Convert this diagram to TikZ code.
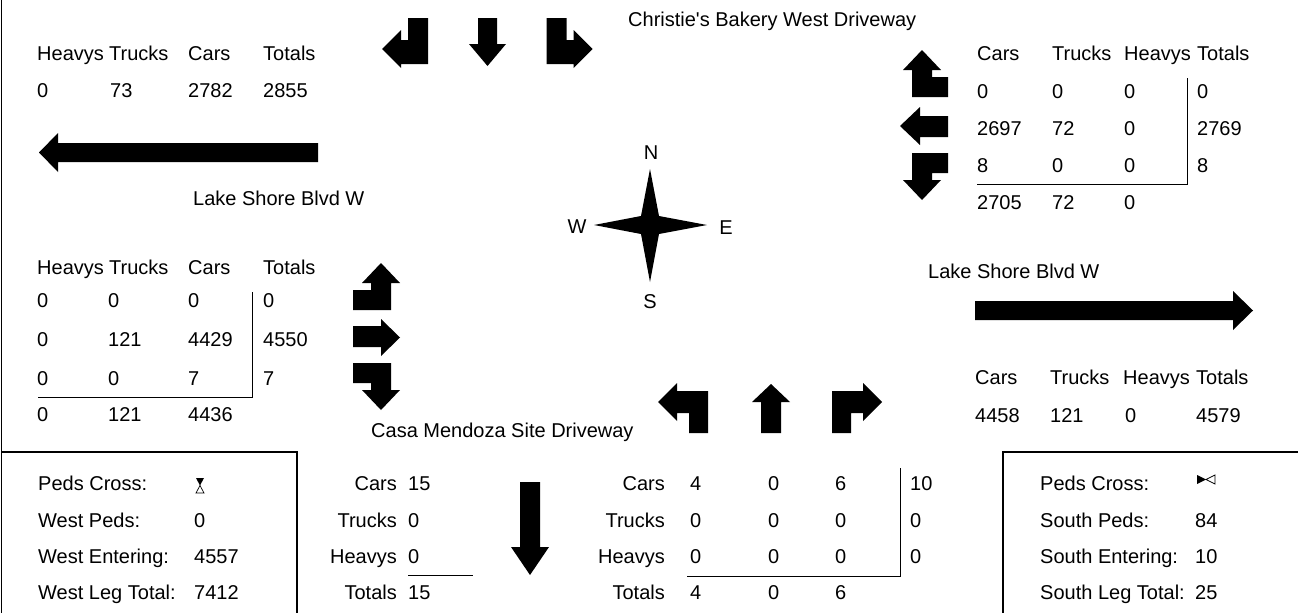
\documentclass[tikz,border=0pt]{standalone}
\usepackage{fontspec}
\setmainfont{Liberation Sans}
\usepackage{tikz}

\begin{document}
\begin{tikzpicture}[x=1pt, y=-1pt, font=\fontsize{20}{24}\selectfont,
  lbl/.style={anchor=base west, inner sep=0pt},
  rlbl/.style={anchor=base east, inner sep=0pt},
  arw/.style={fill=black},
  rule/.style={line width=0.8pt},
  frame/.style={line width=1.2pt}]
  \useasboundingbox (0,0) rectangle (1298,613);
  \draw[frame] (1.5,0) -- (1.5,613);
  \draw[frame] (1.5,452) -- (297,452) -- (297,613);
  \draw[frame] (1298,452) -- (1003,452) -- (1003,613);

  % north leg
  \node[lbl] (nname) at (628,26) {Christie\textquotesingle s Bakery West Driveway};
  \fill[arw] (408,18) -- (428,18) -- (428,64) -- (401,64) -- (401,68) -- (382,49) -- (401,30) -- (401,40) -- (408,40) -- cycle;
  \fill[arw] (478,18) -- (497,18) -- (497,44) -- (506,44) -- (487.5,66) -- (469,44) -- (478,44) -- cycle;
  \fill[arw] (566.5,18) -- (546.5,18) -- (546.5,64) -- (573.5,64) -- (573.5,68) -- (592.5,49) -- (573.5,30) -- (573.5,40) -- (566.5,40) -- cycle;

  % west exit
  \foreach \x/\t [count=\i] in {37/Heavys,109/Trucks,188/Cars,263/Totals}
    \node[lbl] (wxh\i) at (\x,60) {\t};
  \foreach \x/\t [count=\i] in {37/0,110/73,188/2782,263/2855}
    \node[lbl] (wxv\i) at (\x,97) {\t};
  \fill[arw] (318,143) -- (318,162) -- (58,162) -- (58,172) -- (39,152.5) -- (58,133) -- (58,143) -- cycle;
  \node[lbl] (wname) at (193,205) {Lake Shore Blvd W};

  % east leg (approach)
  \foreach \x/\t [count=\i] in {977/Cars,1052/Trucks,1124/Heavys,1197/Totals}
    \node[lbl] (eah\i) at (\x,60) {\t};
  \foreach \y/\a/\b/\c/\d [count=\i] in {98/0/0/0/0,135/2697/72/0/2769,172/8/0/0/8} {
    \node[lbl] (ea\i-1) at (977,\y) {\a};
    \node[lbl] (ea\i-2) at (1052,\y) {\b};
    \node[lbl] (ea\i-3) at (1124,\y) {\c};
    \node[lbl] (ea\i-4) at (1197,\y) {\d};
  }
  \foreach \x/\t [count=\i] in {977/2705,1052/72,1124/0}
    \node[lbl] (eas\i) at (\x,209) {\t};
  \draw[rule] (1187,78) -- (1187,184) -- (977,184);
  \fill[arw] (948,77) -- (948,97) -- (912,97) -- (912,70) -- (903,70) -- (922,50) -- (941,70) -- (932,70) -- (932,77) -- cycle;
  \fill[arw] (948,116) -- (948,137) -- (920,137) -- (920,145) -- (900,126) -- (920,107) -- (920,116) -- cycle;
  \fill[arw] (948,173) -- (948,153) -- (912,153) -- (912,180) -- (903,180) -- (922,200) -- (941,180) -- (932,180) -- (932,173) -- cycle;

  % compass
  \fill[arw] (650,169) -- (659,216) -- (707,225) -- (659,234) -- (650,282) -- (641,234) -- (594,225) -- (641,216) -- cycle;
  \node[inner sep=0pt] (cn) at (651,153) {N};
  \node[inner sep=0pt] (cw) at (577,227) {W};
  \node[inner sep=0pt] (ce) at (726,228) {E};
  \node[inner sep=0pt] (cs) at (650,302) {S};

  % west leg (approach)
  \foreach \x/\t [count=\i] in {37/Heavys,109/Trucks,188/Cars,263/Totals}
    \node[lbl] (wah\i) at (\x,274) {\t};
  \foreach \y/\a/\b/\c/\d [count=\i] in {307/0/0/0/0,346/0/121/4429/4550,385/0/0/7/7} {
    \node[lbl] (wa\i-1) at (37,\y) {\a};
    \node[lbl] (wa\i-2) at (108,\y) {\b};
    \node[lbl] (wa\i-3) at (188,\y) {\c};
    \node[lbl] (wa\i-4) at (263,\y) {\d};
  }
  \foreach \x/\t [count=\i] in {37/0,108/121,188/4436}
    \node[lbl] (was\i) at (\x,421) {\t};
  \draw[rule] (252,292) -- (252,397) -- (38,397);
  \fill[arw] (353,290) -- (371,290) -- (371,283) -- (362,283) -- (381,263) -- (400,283) -- (391,283) -- (391,310) -- (353,310) -- cycle;
  \fill[arw] (353,326) -- (381,326) -- (381,319) -- (400,337.5) -- (381,356) -- (381,347) -- (353,347) -- cycle;
  \fill[arw] (353,383) -- (371,383) -- (371,390) -- (362,390) -- (381,410) -- (400,390) -- (391,390) -- (391,363) -- (353,363) -- cycle;

  % east exit
  \node[lbl] (ename) at (928,278) {Lake Shore Blvd W};
  \fill[arw] (975,301) -- (1233,301) -- (1233,291) -- (1253,310.5) -- (1233,330) -- (1233,320) -- (975,320) -- cycle;
  \foreach \x/\t [count=\i] in {975/Cars,1050/Trucks,1123/Heavys,1196/Totals}
    \node[lbl] (exh\i) at (\x,384) {\t};
  \foreach \x/\t [count=\i] in {975/4458,1050/121,1125/0,1196/4579}
    \node[lbl] (exv\i) at (\x,422) {\t};

  % south leg
  \node[lbl] (sname) at (371,437) {Casa Mendoza Site Driveway};
  \fill[arw] (708,433) -- (689,433) -- (689,413) -- (677,413) -- (677,421) -- (658,402) -- (677,383) -- (677,391) -- (708,391) -- cycle;
  \fill[arw] (761,433) -- (781,433) -- (781,402) -- (790,402) -- (771,384) -- (752,402) -- (761,402) -- cycle;
  \fill[arw] (832,433) -- (851,433) -- (851,413) -- (863,413) -- (863,421) -- (882,402) -- (863,383) -- (863,391) -- (832,391) -- cycle;
  \fill[arw] (520,482) -- (540,482) -- (540,547) -- (549,547) -- (530,575) -- (511,547) -- (520,547) -- cycle;
  \foreach \y/\t/\v [count=\i] in {490/Cars/15,527/Trucks/0,563/Heavys/0,599/Totals/15} {
    \node[rlbl] (sxl\i) at (397,\y) {\t};
    \node[lbl] (sxv\i) at (408,\y) {\v};
  }
  \draw[rule] (408,575) -- (473,575);
  \foreach \y/\t/\a/\b/\c [count=\i] in {490/Cars/4/0/6,527/Trucks/0/0/0,563/Heavys/0/0/0,599/Totals/4/0/6} {
    \node[rlbl] (sal\i) at (665,\y) {\t};
    \node[lbl] (sa\i-1) at (690,\y) {\a};
    \node[lbl] (sa\i-2) at (768,\y) {\b};
    \node[lbl] (sa\i-3) at (835,\y) {\c};
  }
  \foreach \y/\t [count=\i] in {490/10,527/0,563/0}
    \node[lbl] (sat\i) at (910,\y) {\t};
  \draw[rule] (900,468) -- (900,576) -- (687,576);

  % peds boxes
  \foreach \y/\t/\v [count=\i] in {490/Peds Cross:/,527/West Peds:/0,563/West Entering:/4557,599/West Leg Total:/7412} {
    \node[lbl] (wpl\i) at (38,\y) {\t};
    \node[lbl] (wpv\i) at (194,\y) {\v};
  }
  \fill (196,478) -- (204,478) -- (200,485.5) -- cycle;
  \draw[line width=0.7pt] (200,485.5) -- (204,493) -- (196,493) -- cycle;
  \foreach \y/\t/\v [count=\i] in {490/Peds Cross:/,527/South Peds:/84,563/South Entering:/10,599/South Leg Total:/25} {
    \node[lbl] (spl\i) at (1040,\y) {\t};
    \node[lbl] (spv\i) at (1195,\y) {\v};
  }
  \fill (1197,475) -- (1206,479.5) -- (1197,484) -- cycle;
  \draw[line width=0.7pt] (1215,475) -- (1206,479.5) -- (1215,484) -- cycle;
\end{tikzpicture}
\end{document}
